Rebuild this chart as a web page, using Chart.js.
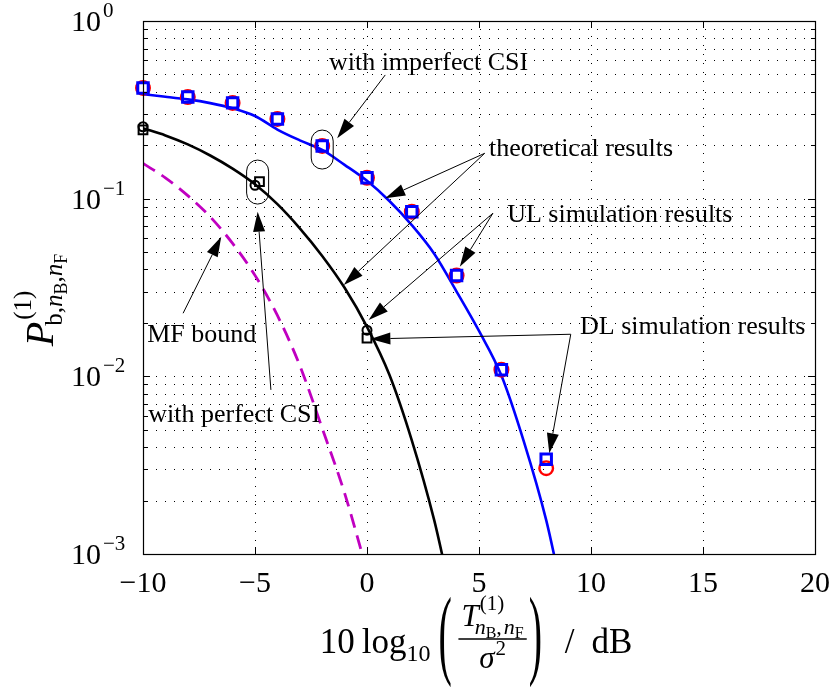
<!DOCTYPE html>
<html>
<head>
<meta charset="utf-8">
<script src="https://cdn.jsdelivr.net/npm/chart.js"></script>
<style>
  html, body { margin: 0; padding: 0; background: #fff; }
  #wrap { width: 834px; height: 691px; position: relative; }
</style>
</head>
<body>
<div id="wrap"><canvas id="c" width="834" height="691"></canvas></div>
<script>
const SERIF = "'Liberation Serif', 'DejaVu Serif', serif";

// Theoretical BER, imperfect CSI (SNR in dB)
const snrImperfectTheory = [-10, -9, -8, -7, -6, -5, -4, -3, -2, -1, 0, 1, 2, 3, 4, 5, 6, 7, 8, 8.6];
const berImperfectTheory = [0.387, 0.375, 0.362, 0.345, 0.323, 0.292, 0.245, 0.213, 0.188, 0.155, 0.126, 0.097, 0.071, 0.049, 0.030, 0.0180, 0.0101, 0.0043, 0.00155, 0.00071];

// Theoretical BER, perfect CSI
const snrPerfectTheory = [-10, -9, -8, -7, -6, -5, -4, -3, -2, -1, 0, 1, 2, 3, 3.6];
const berPerfectTheory = [0.249, 0.227, 0.202, 0.175, 0.1476, 0.1205, 0.0931, 0.0681, 0.0476, 0.0315, 0.0190, 0.0102, 0.00436, 0.00155, 0.00072];

// Matched-filter bound
const snrMfBound = [-10, -9, -8, -7, -6, -5, -4, -3, -2, -1, 0];
const berMfBound = [0.158, 0.131, 0.104, 0.079, 0.056, 0.037, 0.022, 0.0115, 0.0051, 0.0022, 0.0008];

// Simulation, imperfect CSI
const snrImperfectSim = [-10, -8, -6, -4, -2, 0, 2, 4, 6, 8];
const berImperfectUL = [0.42, 0.373, 0.346, 0.281, 0.198, 0.131, 0.0845, 0.0369, 0.0109, 0.00341];
const berImperfectDL = [0.42, 0.373, 0.346, 0.281, 0.198, 0.131, 0.0845, 0.0369, 0.0109, 0.00304];

// Simulation, perfect CSI
const snrPerfectDL = [-10, -5, 0];
const berPerfectDL = [0.254, 0.119, 0.0182];
const snrPerfectUL = [-10, -4.8, 0];
const berPerfectUL = [0.244, 0.1247, 0.0164];

// Axis ticks
const xTickValues = [-10, -5, 0, 5, 10, 15, 20];
const yDecades = [-3, -2, -1, 0];

const pts = (xs, ys) => xs.map((x, i) => ({ x, y: ys[i] }));
const fnt = (size, italic) => (italic ? 'italic ' : '') + size + 'px ' + SERIF;
const minus = s => String(s).replace('-', '\u2212');

function curve(xs, ys, color, dash, width) {
  return {
    data: pts(xs, ys), borderColor: color, borderWidth: width || 2.6, borderDash: dash || [],
    pointRadius: 0, cubicInterpolationMode: 'monotone', fill: false, clip: 0
  };
}
function markers(xs, ys, color, style, radius, width) {
  return {
    data: pts(xs, ys), showLine: false, pointStyle: style, pointRadius: radius,
    pointBorderColor: color, pointBackgroundColor: 'rgba(0,0,0,0)', pointBorderWidth: width, clip: false
  };
}

// Callouts placed in data coordinates
const callouts = {
  texts: [
    { t: 'with imperfect CSI', x: -1.70, y: 0.533 },
    { t: 'theoretical results', x: 5.444, y: 0.1739 },
    { t: 'UL simulation results', x: 6.256, y: 0.0742 },
    { t: 'DL simulation results', x: 9.513, y: 0.01725 },
    { t: 'MF bound', x: -9.81, y: 0.01555 },
    { t: 'with perfect CSI', x: -9.765, y: 0.00556 }
  ],
  arrows: [
    { from: [0.815, 0.497], to: [-1.333, 0.2187] },
    { from: [5.253, 0.180], to: [0.815, 0.1005] },
    { from: [5.253, 0.180], to: [-1.035, 0.0327] },
    { from: [5.622, 0.0828], to: [4.144, 0.0414] },
    { from: [5.622, 0.0828], to: [0.074, 0.02076] },
    { from: [9.096, 0.01725], to: [0.15, 0.01623] },
    { from: [9.096, 0.01725], to: [8.138, 0.00369] },
    { from: [-8.21, 0.02265], to: [-6.507, 0.0611] },
    { from: [-4.29, 0.00839], to: [-4.883, 0.0845] }
  ],
  capsules: [
    { x: -2, y: 0.189, w: 22, h: 39 },
    { x: -4.883, y: 0.124, w: 22, h: 44 }
  ]
};

function drawArrow(ctx, x1, y1, x2, y2) {
  const ang = Math.atan2(y2 - y1, x2 - x1);
  const L = 20, H = 6;
  const bx = x2 - L * Math.cos(ang), by = y2 - L * Math.sin(ang);
  ctx.beginPath(); ctx.moveTo(x1, y1); ctx.lineTo(bx, by); ctx.stroke();
  ctx.beginPath();
  ctx.moveTo(x2, y2);
  ctx.lineTo(bx + H * Math.sin(ang), by - H * Math.cos(ang));
  ctx.lineTo(bx - H * Math.sin(ang), by + H * Math.cos(ang));
  ctx.closePath(); ctx.fill();
}

function bigParen(ctx, ch, x, cy, height) {
  ctx.save();
  ctx.font = fnt(100);
  const m = ctx.measureText(ch);
  const h = m.actualBoundingBoxAscent + m.actualBoundingBoxDescent;
  const s = height / h;
  ctx.translate(x, cy);
  ctx.scale(s * 0.4, s);
  ctx.textBaseline = 'alphabetic';
  ctx.fillText(ch, 0, (m.actualBoundingBoxAscent - m.actualBoundingBoxDescent) / 2);
  ctx.restore();
}

function runText(ctx, ops, ox, oy) {
  ops.forEach(o => { ctx.font = o.f; ctx.fillText(o.t, ox + o.x, oy + o.dy); });
}
function layout(ctx, items) {
  let cur = 0; const ops = [];
  items.forEach(it => {
    if (it.gap) { cur += it.gap; return; }
    ctx.font = it.f;
    ops.push({ t: it.t, f: it.f, x: cur, dy: it.dy || 0 });
    cur += ctx.measureText(it.t).width;
  });
  return { ops, width: cur };
}

function drawXTitle(ctx, cx, yb) {
  ctx.save();
  ctx.fillStyle = '#000'; ctx.textAlign = 'left'; ctx.textBaseline = 'alphabetic';
  const head = layout(ctx, [
    { t: '10', f: fnt(35) }, { gap: 7 }, { t: 'log', f: fnt(35) }, { t: '10', f: fnt(24), dy: 8 }
  ]);
  // numerator: T^{(1)}_{n_B,n_F}
  ctx.font = fnt(31, true); const wT = ctx.measureText('T').width;
  const sup = layout(ctx, [{ t: '(1)', f: fnt(21) }]);
  const sub = layout(ctx, [
    { t: 'n', f: fnt(22, true) }, { t: 'B', f: fnt(16), dy: 4 }, { t: ',', f: fnt(22) }, { gap: 2 },
    { t: 'n', f: fnt(22, true) }, { t: 'F', f: fnt(16), dy: 4 }
  ]);
  const numW = wT + Math.max(sup.width, sub.width - 4);
  ctx.font = fnt(31, true); const wSig = ctx.measureText('\u03c3').width;
  ctx.font = fnt(21); const w2 = ctx.measureText('2').width;
  const denW = wSig + w2 + 1;
  const fracW = Math.max(numW, denW) + 6;
  const tail = layout(ctx, [{ t: '/', f: fnt(35) }, { gap: 17 }, { t: 'dB', f: fnt(35) }]);
  const parenW = 18;
  const total = head.width + 8 + parenW + 2 + fracW + 2 + parenW + 18 + tail.width;
  let x = cx - total / 2;
  runText(ctx, head.ops, x, yb);
  x += head.width + 8;
  const barY = yb - 14;
  bigParen(ctx, '(', x, barY + 3, 92);
  x += parenW + 2;
  // fraction
  const nx = x + (fracW - numW) / 2;
  ctx.font = fnt(31, true); ctx.fillText('T', nx, yb - 27);
  runText(ctx, sup.ops, nx + wT + 1, yb - 43);
  runText(ctx, sub.ops, nx + wT - 4, yb - 19);
  ctx.fillRect(x, barY - 0.75, fracW, 1.5);
  const dx = x + (fracW - denW) / 2;
  ctx.font = fnt(31, true); ctx.fillText('\u03c3', dx, yb + 15);
  ctx.font = fnt(21); ctx.fillText('2', dx + wSig + 1, yb + 2);
  x += fracW + 2;
  bigParen(ctx, ')', x, barY + 3, 92);
  x += parenW + 18;
  runText(ctx, tail.ops, x, yb);
  ctx.restore();
}

function drawYTitle(ctx, bx, cy) {
  ctx.save();
  ctx.fillStyle = '#000'; ctx.textAlign = 'left'; ctx.textBaseline = 'alphabetic';
  ctx.font = fnt(40, true); const wP = ctx.measureText('P').width;
  const sup = layout(ctx, [{ t: '(1)', f: fnt(25) }]);
  const sub = layout(ctx, [
    { t: 'b,', f: fnt(25) }, { t: 'n', f: fnt(25, true) }, { t: 'B', f: fnt(18), dy: 5 },
    { t: ',', f: fnt(25) }, { t: 'n', f: fnt(25, true) }, { t: 'F', f: fnt(18), dy: 5 }
  ]);
  const total = wP + Math.max(sup.width, sub.width - 4);
  ctx.translate(bx, cy);
  ctx.rotate(-Math.PI / 2);
  const u0 = -total / 2;
  ctx.font = fnt(40, true); ctx.fillText('P', u0, 0);
  runText(ctx, sup.ops, u0 + wP + 2, -22);
  runText(ctx, sub.ops, u0 + wP - 4, 9);
  ctx.restore();
}

const framePlugin = {
  id: 'frame',
  beforeDatasetsDraw(chart) {
    const { ctx, chartArea: a, scales: { x, y } } = chart;
    ctx.save();
    ctx.strokeStyle = '#000'; ctx.lineWidth = 1; ctx.setLineDash([1, 8]);
    for (let e = -3; e < 0; e++) {
      for (let k = 1; k <= 9; k++) {
        const py = Math.round(y.getPixelForValue(k * Math.pow(10, e))) + 0.5;
        if (py <= a.top + 1 || py >= a.bottom - 1) continue;
        ctx.beginPath(); ctx.moveTo(a.left + 4, py); ctx.lineTo(a.right, py); ctx.stroke();
      }
    }
    xTickValues.forEach(v => {
      const pxv = Math.round(x.getPixelForValue(v)) + 0.5;
      if (pxv <= a.left + 1 || pxv >= a.right - 1) return;
      ctx.beginPath(); ctx.moveTo(pxv, a.bottom - 4); ctx.lineTo(pxv, a.top); ctx.stroke();
    });
    ctx.restore();
  },
  afterDatasetsDraw(chart) {
    const { ctx, chartArea: a, scales: { x, y } } = chart;
    ctx.save();
    // axes box
    ctx.strokeStyle = '#000'; ctx.lineWidth = 1.2; ctx.setLineDash([]);
    ctx.strokeRect(Math.round(a.left) + 0.5, Math.round(a.top) + 0.5,
      Math.round(a.right - a.left), Math.round(a.bottom - a.top));
    // inward tick marks
    ctx.lineWidth = 1;
    for (let e = -3; e <= 0; e++) {
      for (let k = 1; k <= (e === 0 ? 1 : 9); k++) {
        const py = Math.round(y.getPixelForValue(k * Math.pow(10, e))) + 0.5;
        const len = k === 1 ? 7 : 4;
        ctx.beginPath();
        ctx.moveTo(a.left, py); ctx.lineTo(a.left + len, py);
        ctx.moveTo(a.right, py); ctx.lineTo(a.right - len, py);
        ctx.stroke();
      }
    }
    xTickValues.forEach(v => {
      const pxv = Math.round(x.getPixelForValue(v)) + 0.5;
      ctx.beginPath();
      ctx.moveTo(pxv, a.bottom); ctx.lineTo(pxv, a.bottom - 7);
      ctx.moveTo(pxv, a.top); ctx.lineTo(pxv, a.top + 7);
      ctx.stroke();
    });
    // y tick labels 10^e
    ctx.fillStyle = '#000'; ctx.textAlign = 'left'; ctx.textBaseline = 'alphabetic';
    yDecades.forEach(e => {
      const py = y.getPixelForValue(Math.pow(10, e));
      ctx.font = fnt(30);
      const w10 = ctx.measureText('10').width;
      ctx.fillText('10', 71, py + 10);
      ctx.font = fnt(21);
      ctx.fillText(minus(e), 71 + w10 + 2, py - 4);
    });
    // axis titles
    drawXTitle(ctx, 476, 653);
    drawYTitle(ctx, 53, 300);
    // callouts
    ctx.lineWidth = 1; ctx.strokeStyle = '#000'; ctx.fillStyle = '#000';
    callouts.capsules.forEach(c => {
      const cx = x.getPixelForValue(c.x), cy = y.getPixelForValue(c.y);
      ctx.beginPath();
      ctx.roundRect(cx - c.w / 2, cy - c.h / 2, c.w, c.h, c.w / 2);
      ctx.stroke();
    });
    callouts.arrows.forEach(ar => {
      drawArrow(ctx, x.getPixelForValue(ar.from[0]), y.getPixelForValue(ar.from[1]),
        x.getPixelForValue(ar.to[0]), y.getPixelForValue(ar.to[1]));
    });
    ctx.font = fnt(26);
    callouts.texts.forEach(tx => {
      ctx.fillText(tx.t, x.getPixelForValue(tx.x), y.getPixelForValue(tx.y));
    });
    ctx.restore();
  }
};

new Chart(document.getElementById('c'), {
  type: 'line',
  data: {
    datasets: [
      markers(snrImperfectSim, berImperfectUL, '#0000ff', 'rect', 7.4, 3),
      markers(snrImperfectSim, berImperfectDL, '#ff0000', 'circle', 6.8, 2.4),
      markers(snrPerfectUL, berPerfectUL, '#000000', 'rect', 6.2, 2),
      markers(snrPerfectDL, berPerfectDL, '#000000', 'circle', 4.5, 2),
      curve(snrImperfectTheory, berImperfectTheory, '#0000ff'),
      curve(snrPerfectTheory, berPerfectTheory, '#000000'),
      curve(snrMfBound, berMfBound, '#c000c0', [14, 8], 2.8)
    ]
  },
  options: {
    responsive: false,
    animation: false,
    events: [],
    layout: { padding: { left: 0, right: 15, top: 21, bottom: 0 } },
    plugins: { legend: { display: false }, tooltip: { enabled: false } },
    scales: {
      x: {
        type: 'linear', min: -10, max: 20,
        grid: { display: false }, border: { display: false },
        ticks: {
          stepSize: 5, padding: 4, maxRotation: 0, color: '#000',
          font: { family: SERIF, size: 30 },
          callback: v => minus(v)
        },
        afterFit: s => { s.height = 137; }
      },
      y: {
        type: 'logarithmic', min: 0.001, max: 1,
        grid: { display: false }, border: { display: false },
        ticks: { display: false },
        afterFit: s => { s.width = 143; }
      }
    }
  },
  plugins: [framePlugin]
});
</script>
</body>
</html>
